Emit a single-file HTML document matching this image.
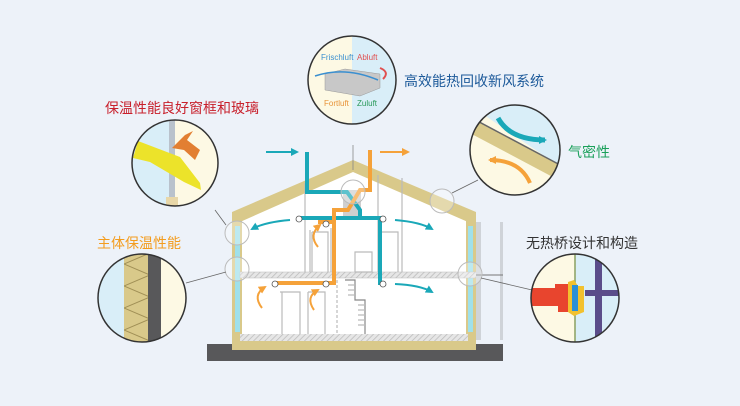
<!DOCTYPE html>
<html><head><meta charset="utf-8"><style>
html,body{margin:0;padding:0;background:#edf2f9;}
svg{display:block}
text{font-family:"Liberation Sans","Noto Sans CJK SC",sans-serif;}
</style></head><body>
<svg width="740" height="406" viewBox="0 0 740 406" xmlns="http://www.w3.org/2000/svg">
<defs>
<marker id="at" markerWidth="8" markerHeight="8" refX="6" refY="4" orient="auto" markerUnits="userSpaceOnUse"><path d="M0,0 L8,4 L0,8 Z" fill="#1aa8b8"/></marker>
<marker id="ao" markerWidth="8" markerHeight="8" refX="6" refY="4" orient="auto" markerUnits="userSpaceOnUse"><path d="M0,0 L8,4 L0,8 Z" fill="#f5a23a"/></marker>
<pattern id="hat" width="4" height="4" patternUnits="userSpaceOnUse" patternTransform="rotate(45)"><rect width="4" height="4" fill="#e6e6e6"/><line x1="0" y1="0" x2="0" y2="4" stroke="#bbb" stroke-width="1.5"/></pattern>
<pattern id="zig" width="26" height="22" patternUnits="userSpaceOnUse" x="124" y="0"><path d="M0,0 L26,11 L0,22" fill="none" stroke="#a08f55" stroke-width="1"/></pattern>
<clipPath id="c1"><circle cx="175" cy="163" r="43"/></clipPath>
<clipPath id="c2"><circle cx="142" cy="298" r="44"/></clipPath>
<clipPath id="c3"><circle cx="515" cy="150" r="45"/></clipPath>
<clipPath id="c4"><circle cx="575" cy="298" r="44"/></clipPath>
<clipPath id="c5"><circle cx="352" cy="80" r="44"/></clipPath>
</defs>
<rect width="740" height="406" fill="#edf2f9"/>

<rect x="207" y="344" width="296" height="17" fill="#58585a"/>
<path d="M240,218 L353,170 L468,218 L468,336 L240,336 Z" fill="#ffffff"/>
<path d="M232,212 L353,160 L476,212 L476,222 L468,222 L353,172 L240,222 L232,222 Z" fill="#d9c98a"/>
<rect x="232" y="218" width="10" height="120" fill="#d9c98a"/>
<rect x="235" y="226" width="5" height="106" fill="#9fe0ea"/>
<rect x="466" y="218" width="10" height="120" fill="#d9c98a"/>
<rect x="468" y="226" width="5" height="106" fill="#9fe0ea"/>
<rect x="240" y="272" width="240" height="6" fill="url(#hat)" stroke="#bbb" stroke-width="0.5"/>
<rect x="232" y="334" width="244" height="16" fill="#d9c98a"/>
<rect x="240" y="334" width="228" height="7" fill="url(#hat)"/>
<rect x="476" y="222" width="5" height="118" fill="#cfd3d8"/>
<rect x="500" y="222" width="3" height="118" fill="#cfd3d8"/>
<line x1="476" y1="275" x2="503" y2="275" stroke="#777" stroke-width="1"/>
<g stroke="#bbb" stroke-width="1.2" fill="none">
<path d="M305,183 L305,272 M310,230 L310,272 M331,228 L331,272 M378,175 L378,272 M402,178 L402,272"/>
<path d="M312,232 L328,232 L328,272 M312,232 L312,272"/>
<path d="M382,232 L398,232 L398,272"/>
<path d="M280,292 L300,292 L300,334 M282,292 L282,334"/>
<path d="M308,292 L325,292 L325,334 M308,292 L308,334"/>
<path d="M355,252 L372,252 L372,272 L355,272 Z"/>
<path d="M345,280 L355,280 L355,300 L365,300 L365,334" stroke="#888"/>
<path d="M337,280 L337,334" stroke-dasharray="3,2"/>
<path d="M348,285 L354,285 M348,290 L354,290 M348,295 L354,295 M358,305 L365,305 M358,310 L365,310 M358,315 L365,315 M358,320 L365,320 M358,325 L365,325"/>
</g>
<rect x="343" y="190" width="18" height="28" fill="#cfcfcf"/>
<g fill="none" stroke="#1aa8b8" stroke-width="4">
<path d="M307,152 L307,192 L347,192 L360,210 L360,218"/>
<path d="M300,218 L380,218 L380,283 L383,283"/>
</g>
<path d="M266,152 L297,152" stroke="#1aa8b8" stroke-width="2" marker-end="url(#at)"/>
<g fill="none" stroke="#f5a23a" stroke-width="4">
<path d="M370,150 L370,190 L360,190 L348,210 L334,210 L334,283 L275,283"/>
<path d="M334,222 L318,222"/>
</g>
<path d="M380,152 L408,152" stroke="#f5a23a" stroke-width="2" marker-end="url(#ao)"/>
<line x1="353" y1="145" x2="353" y2="170" stroke="#888" stroke-width="0.8"/>
<g fill="#fff" stroke="#555" stroke-width="0.8">
<circle cx="299" cy="219" r="3"/><circle cx="326" cy="224" r="3"/><circle cx="383" cy="219" r="3"/>
<circle cx="275" cy="284" r="3"/><circle cx="326" cy="284" r="3"/><circle cx="383" cy="284" r="3"/>
</g>
<g fill="none" stroke-width="2">
<path d="M290,220 Q265,222 252,229" stroke="#1aa8b8" marker-end="url(#at)"/>
<path d="M395,220 Q420,222 432,229" stroke="#1aa8b8" marker-end="url(#at)"/>
<path d="M395,284 Q420,285 432,292" stroke="#1aa8b8" marker-end="url(#at)"/>
<path d="M318,247 Q308,235 320,225" stroke="#f5a23a" marker-end="url(#ao)"/>
<path d="M262,308 Q252,295 265,287" stroke="#f5a23a" marker-end="url(#ao)"/>
<path d="M314,310 Q305,297 318,290" stroke="#f5a23a" marker-end="url(#ao)"/>
</g>
<g fill="rgba(255,255,255,0.3)" stroke="#bbb" stroke-width="1">
<circle cx="237" cy="233" r="12"/><circle cx="237" cy="269" r="12"/><circle cx="470" cy="274" r="12"/><circle cx="442" cy="201" r="12"/><circle cx="353" cy="192" r="12"/>
</g>
<g stroke="#666" stroke-width="0.8">
<line x1="215" y1="210" x2="226" y2="225"/><line x1="186" y1="283" x2="226" y2="272"/>
<line x1="452" y1="193" x2="478" y2="180"/><line x1="481" y1="278" x2="532" y2="290"/>
</g>

<g clip-path="url(#c1)">
<rect x="130" y="118" width="90" height="90" fill="#d9eef8"/>
<rect x="172" y="118" width="50" height="90" fill="#fdf9e4"/>
<rect x="169" y="118" width="6" height="90" fill="#b9c2cc"/>
<path d="M138,141 L180,157 L200,183 L201,190 L184,182 L150,162 L133,158 Z" fill="#ece32a"/>
<path d="M172,148 L185,135 L193,131 L187,140 L200,150 L195,160 L184,150 Z" fill="#e27f32"/>
<rect x="166" y="197" width="12" height="12" fill="#e8d7a8"/>
</g>
<circle cx="175" cy="163" r="43" fill="none" stroke="#333" stroke-width="1.5"/>
<g clip-path="url(#c2)">
<rect x="96" y="252" width="94" height="94" fill="#d9eef8"/>
<rect x="124" y="252" width="24" height="94" fill="#d9c98a"/>
<rect x="124" y="252" width="24" height="94" fill="url(#zig)"/>
<rect x="148" y="252" width="13" height="94" fill="#58585a"/>
<rect x="161" y="252" width="30" height="94" fill="#fdf9e4"/>
</g>
<circle cx="142" cy="298" r="44" fill="none" stroke="#333" stroke-width="1.5"/>
<g clip-path="url(#c3)">
<rect x="468" y="104" width="94" height="94" fill="#fdf9e4"/>
<path d="M468,104 L562,104 L562,168 Z" fill="#d9eef8"/>
<path d="M468,116 L562,166 L562,182 L468,132 Z" fill="#d9c98a"/>
<line x1="468" y1="116" x2="562" y2="166" stroke="#666" stroke-width="1.5"/>
<path d="M498,118 Q510,140 545,140" fill="none" stroke="#1aa8b8" stroke-width="5" marker-end="url(#at)"/>
<path d="M530,183 Q520,160 490,160" fill="none" stroke="#f5a23a" stroke-width="4" marker-end="url(#ao)"/>
</g>
<circle cx="515" cy="150" r="45" fill="none" stroke="#333" stroke-width="1.5"/>
<g clip-path="url(#c4)">
<rect x="530" y="254" width="90" height="90" fill="#fdf9e4"/>
<rect x="575" y="254" width="45" height="90" fill="#d9eef8"/>
<line x1="575" y1="254" x2="575" y2="344" stroke="#8aa060" stroke-width="1.5"/>
<rect x="595" y="254" width="7" height="90" fill="#5a4d8a"/>
<rect x="585" y="290" width="35" height="6" fill="#5a4d8a"/>
<path d="M530,288 L555,288 L555,284 L568,284 L568,312 L558,312 L558,306 L530,306 Z" fill="#e8452e"/>
<path d="M568,282 L574,280 L578,286 L584,286 L584,312 L574,316 L568,312 Z" fill="#f2c12e"/>
<rect x="572" y="285" width="6" height="26" fill="#2a8fd8"/>
</g>
<circle cx="575" cy="298" r="44" fill="none" stroke="#333" stroke-width="1.5"/>
<g clip-path="url(#c5)">
<rect x="306" y="34" width="46" height="92" fill="#fdf9e4"/>
<rect x="352" y="34" width="46" height="92" fill="#d9eef8"/>
<path d="M325,74 L345,69 L380,74 L380,88 L360,96 L325,90 Z" fill="#c8c8c8" stroke="#999" stroke-width="0.5"/>
<path d="M315,76 Q345,66 378,80" fill="none" stroke="#3a8fd0" stroke-width="1.5"/>
<path d="M380,68 Q390,72 383,79" fill="none" stroke="#e05050" stroke-width="2"/>
<text x="321" y="60" font-size="8" fill="#3a8fd0">Frischluft</text>
<text x="357" y="60" font-size="8" fill="#e05050">Abluft</text>
<text x="324" y="106" font-size="8" fill="#e8943a">Fortluft</text>
<text x="357" y="106" font-size="8" fill="#2a9a5a">Zuluft</text>
</g>
<circle cx="352" cy="80" r="44" fill="none" stroke="#333" stroke-width="1.5"/>

<text x="105" y="113" font-size="14" fill="#c8202c">保温性能良好窗框和玻璃</text>
<text x="97" y="248" font-size="14" fill="#f39c1e">主体保温性能</text>
<text x="404" y="86" font-size="14" fill="#1d5a9a">高效能热回收新风系统</text>
<text x="568" y="157" font-size="14" fill="#1aa05a">气密性</text>
<text x="526" y="248" font-size="14" fill="#333">无热桥设计和构造</text>
</svg>
</body></html>
